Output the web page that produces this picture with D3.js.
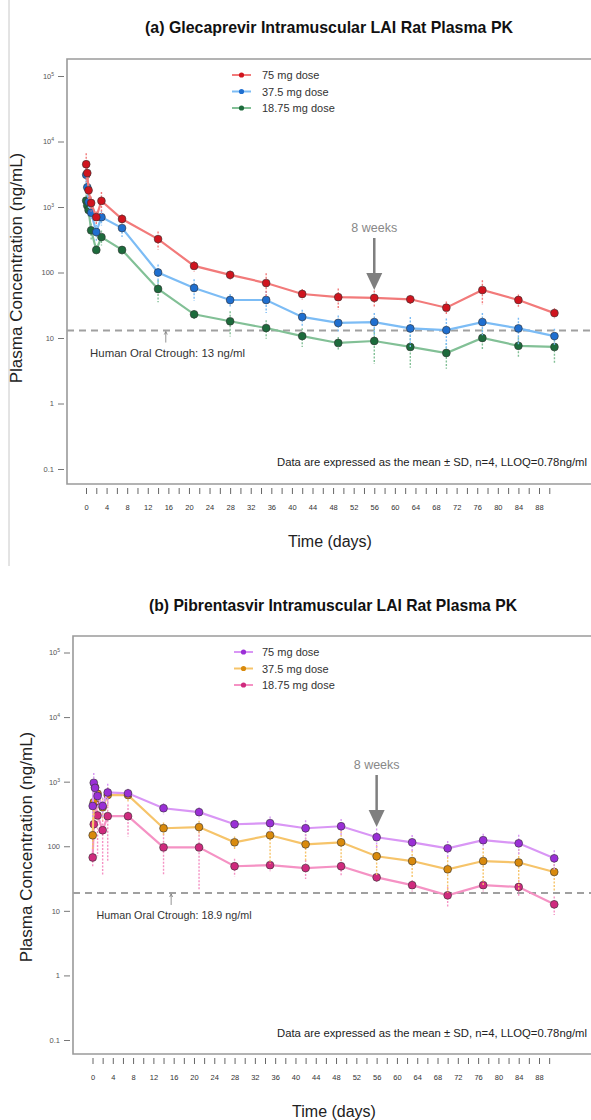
<!DOCTYPE html>
<html>
<head>
<meta charset="utf-8">
<script src="https://cdn.jsdelivr.net/npm/d3@7"></script>
<style>
  body { margin: 0; background: #fff; }
  svg { display: block; font-family: "Liberation Sans", Arial, sans-serif; }
</style>
</head>
<body>
<div id="vis"></div>
<script>
const width = 591;
const height = 1120;

// sampling times (days)
const days = [0.04, 0.25, 0.5, 1, 2, 3, 7, 14, 21, 28, 35, 42, 49, 56, 63, 70, 77, 84, 91];
const doseLabels = ['75 mg dose', '37.5 mg dose', '18.75 mg dose'];
const yTickValues = [0.1, 1, 10, 100, 1000, 10000, 100000];
const xMinorTicks = [0,2,4,6,8,10,12,14,16,18,20,22,24,26,28,30,32,34,36,38,40,42,44,46,48,50,52,54,56,58,60,62,64,66,68,70,72,74,76,78,80,82,84,86,88,90];
const xTickLabels = [0,4,8,12,16,20,24,28,32,36,40,44,48,52,56,60,64,68,72,76,80,84,88];

// (a) glecaprevir, mean and SD (ng/mL)
const gle75 = [4500, 3300, 1800, 1150, 700, 1240, 656, 324, 126, 92, 69, 47, 42, 41, 39, 29, 54, 38, 24];
const gle75sd = [2100, 900, 500, 300, 150, 460, 120, 100, 24, 14, 28, 9, 15, 12, 6, 7, 22, 8, 4.5];
const gle37 = [3100, 2000, 1200, 820, 415, 700, 477, 100, 58, 38, 38, 21, 17, 17.5, 14, 13.2, 17.5, 14, 10.7];
const gle37sd = [900, 500, 300, 200, 120, 180, 130, 32, 21, 9, 14, 6, 5, 6.5, 7, 6.6, 6.5, 6.3, 3.2];
const gle18 = [1250, 1050, 900, 440, 221, 348, 221, 56, 23, 18, 14.2, 10.7, 8.4, 9, 7.3, 5.9, 10, 7.6, 7.3];
const gle18sd = [300, 250, 200, 120, 40, 90, 33, 21, 3.5, 7.5, 4.5, 3.4, 2, 5, 3.8, 2.5, 3.5, 2.7, 3.3];

// (b) pibrentasvir, mean and SD (ng/mL)
const pib75 = [420, 960, 800, 600, 420, 680, 660, 388, 337, 219, 228, 190, 204, 138, 115, 93, 124, 111, 65];
const pib75sd = [150, 400, 250, 200, 150, 250, 120, 75, 65, 33, 60, 63, 60, 50, 35, 28, 32, 40, 22];
const pib37 = [148, 480, 820, 650, 400, 620, 620, 190, 198, 115, 148, 107, 115, 70, 59, 44, 59, 56, 40];
const pib37sd = [60, 200, 250, 200, 150, 200, 150, 44, 50, 26, 95, 48, 55, 35, 27, 25, 35, 35, 20];
const pib18 = [67, 219, 480, 300, 177, 292, 292, 96, 96, 49, 51, 46, 49, 33, 25, 17.4, 25, 23.4, 12.6];
const pib18sd = [20, 100, 200, 230, 150, 240, 150, 60, 75, 15, 10, 15, 14, 6, 5, 6, 5, 7, 4];

const svg = d3.select('#vis')
    .append('svg')
    .attr('width', width)
    .attr('height', height);

svg.append('rect').attr('width', width).attr('height', height).attr('fill', '#fff');

// thin frame line of the first image
svg.append('line')
    .attr('x1', 9).attr('x2', 9).attr('y1', 0).attr('y2', 566)
    .attr('stroke', '#c8c8c8').attr('stroke-width', 1);

function drawPanel(p) {
    const g = svg.append('g');
    const x = d3.scaleLinear().domain([0, 88]).range([p.x0, 539]);
    const y = d3.scaleLog().domain([0.1, 100000]).range([p.yBottom, p.yTop]);

    // title
    g.append('text')
        .attr('x', p.titleX).attr('y', p.titleY)
        .attr('text-anchor', 'middle')
        .attr('font-size', 16.5).attr('font-weight', 'bold')
        .attr('fill', '#111')
        .attr('textLength', 368).attr('lengthAdjust', 'spacingAndGlyphs')
        .text(p.title);

    // box (right side runs off the picture)
    g.append('path')
        .attr('d', `M600,${p.boxTop}H${p.boxLeft}V${p.boxBottom}H600`)
        .attr('fill', 'none').attr('stroke', '#9a9a9a').attr('stroke-width', 1.6);

    // y axis
    const yAxis = g.append('g')
        .attr('transform', `translate(${p.boxLeft - 3},0)`)
        .call(d3.axisLeft(y).tickValues(yTickValues).tickSize(6).tickPadding(4).tickFormat(''));
    yAxis.select('.domain').remove();
    yAxis.selectAll('.tick line').attr('stroke', '#777');
    yAxis.selectAll('.tick').each(function(d) {
        const t = d3.select(this).select('text')
            .attr('font-size', 7.5).attr('fill', '#555').attr('font-family', 'Liberation Sans, Arial, sans-serif');
        if (d >= 1000) {
            t.append('tspan').text('10');
            t.append('tspan').attr('font-size', 5).attr('dy', -3).text(Math.round(Math.log10(d)));
        } else {
            t.text(d3.format('~g')(d));
        }
    });

    // x axis: minor ticks every 2 days, labels every 4
    const xAxis = g.append('g')
        .attr('transform', `translate(0,${p.boxBottom + 4})`)
        .call(d3.axisBottom(x).tickValues(xMinorTicks).tickSize(6).tickFormat(''));
    xAxis.select('.domain').remove();
    xAxis.selectAll('.tick line').attr('stroke', '#666');
    const xLab = g.append('g')
        .attr('transform', `translate(0,${p.boxBottom + 4})`)
        .call(d3.axisBottom(x).tickValues(xTickLabels).tickSize(0).tickPadding(17));
    xLab.select('.domain').remove();
    xLab.selectAll('text').attr('font-size', 7.5).attr('fill', '#333');

    // axis titles
    g.append('text')
        .attr('transform', `translate(${p.yTitleX},${p.yTitleY}) rotate(-90)`)
        .attr('text-anchor', 'middle')
        .attr('font-size', 17).attr('fill', '#222')
        .text('Plasma Concentration (ng/mL)');
    g.append('text')
        .attr('x', p.titleX + 1).attr('y', p.boxBottom + 63)
        .attr('text-anchor', 'middle')
        .attr('font-size', 16).attr('fill', '#222')
        .text('Time (days)');

    // human oral Ctrough
    g.append('line')
        .attr('x1', p.boxLeft).attr('x2', 600)
        .attr('y1', y(p.ctrough)).attr('y2', y(p.ctrough))
        .attr('stroke', '#a0a0a0').attr('stroke-width', 2)
        .attr('stroke-dasharray', '7,5');
    const ax = x(15.5);
    g.append('line')
        .attr('x1', ax).attr('x2', ax)
        .attr('y1', y(p.ctrough) + 1).attr('y2', y(p.ctrough) + 12)
        .attr('stroke', '#777').attr('stroke-width', 0.8);
    g.append('path')
        .attr('d', `M${ax - 1.5},${y(p.ctrough) + 4}L${ax},${y(p.ctrough) + 1}L${ax + 1.5},${y(p.ctrough) + 4}`)
        .attr('fill', 'none').attr('stroke', '#777').attr('stroke-width', 0.8);
    g.append('text')
        .attr('x', x(0.8)).attr('y', y(p.ctrough) + 26)
        .attr('font-size', 11).attr('fill', '#333')
        .attr('textLength', 155).attr('lengthAdjust', 'spacingAndGlyphs')
        .text(p.ctroughLabel);

    // 8 weeks arrow
    const wx = x(56);
    g.append('text')
        .attr('x', wx).attr('y', p.weekY)
        .attr('text-anchor', 'middle')
        .attr('font-size', 12.5).attr('fill', '#888')
        .text('8 weeks');
    g.append('line')
        .attr('x1', wx).attr('x2', wx)
        .attr('y1', p.weekY + 6).attr('y2', p.weekY + 44)
        .attr('stroke', '#7f7f7f').attr('stroke-width', 2.5);
    g.append('path')
        .attr('d', `M${wx - 8},${p.weekY + 41}L${wx + 8},${p.weekY + 41}L${wx},${p.weekY + 58}Z`)
        .attr('fill', '#7f7f7f');

    // footnote
    g.append('text')
        .attr('x', 587).attr('y', y(0.1) - 3)
        .attr('text-anchor', 'end')
        .attr('font-size', 11).attr('fill', '#222')
        .attr('textLength', 310).attr('lengthAdjust', 'spacingAndGlyphs')
        .text('Data are expressed as the mean \u00b1 SD, n=4, LLOQ=0.78ng/ml');

    const line = d3.line().x(d => x(d.day)).y(d => y(d.v));

    // series, lowest dose drawn first
    p.series.slice().reverse().forEach(s => {
        const pts = days.map((day, i) => ({day, v: s.values[i], sd: s.sd[i]}));
        const sg = g.append('g');
        sg.selectAll('line.err')
            .data(pts)
            .join('line')
            .attr('class', 'err')
            .attr('x1', d => x(d.day)).attr('x2', d => x(d.day))
            .attr('y1', d => y(d.v + d.sd))
            .attr('y2', d => y(Math.max(d.v - d.sd, d.v * 0.2)))
            .attr('stroke', s.light).attr('stroke-width', 1.4)
            .attr('stroke-dasharray', '2,1.5');
        sg.append('path')
            .datum(pts)
            .attr('d', line)
            .attr('fill', 'none')
            .attr('stroke', s.light).attr('stroke-width', 2.2);
        sg.selectAll('circle')
            .data(pts)
            .join('circle')
            .attr('cx', d => x(d.day)).attr('cy', d => y(d.v))
            .attr('r', 3.9)
            .attr('fill', s.dark)
            .attr('stroke', '#333').attr('stroke-width', 0.6);
    });

    // legend
    const lg = g.append('g');
    p.series.forEach((s, i) => {
        const ly = p.legendY + i * 16.5;
        lg.append('line')
            .attr('x1', p.legendX).attr('x2', p.legendX + 19)
            .attr('y1', ly).attr('y2', ly)
            .attr('stroke', s.light).attr('stroke-width', 2);
        lg.append('circle')
            .attr('cx', p.legendX + 9.5).attr('cy', ly).attr('r', 2.6)
            .attr('fill', s.dark);
        lg.append('text')
            .attr('x', 262).attr('y', ly + 4)
            .attr('font-size', 11).attr('fill', '#333')
            .text(doseLabels[i]);
    });
}

drawPanel({
    title: '(a) Glecaprevir Intramuscular LAI Rat Plasma PK',
    titleX: 329, titleY: 33,
    boxTop: 59, boxLeft: 67, boxBottom: 484,
    yTop: 76, yBottom: 469,
    x0: 86,
    yTitleX: 22, yTitleY: 268,
    ctrough: 13, ctroughLabel: 'Human Oral Ctrough: 13 ng/ml',
    weekY: 232,
    legendX: 232, legendY: 75,
    series: [
        {values: gle75, sd: gle75sd, dark: '#d0141e', light: '#f27a7a'},
        {values: gle37, sd: gle37sd, dark: '#1f6fd0', light: '#7cbcf5'},
        {values: gle18, sd: gle18sd, dark: '#1d6b3c', light: '#82c096'}
    ]
});

drawPanel({
    title: '(b) Pibrentasvir Intramuscular LAI Rat Plasma PK',
    titleX: 333, titleY: 611,
    boxTop: 636, boxLeft: 73, boxBottom: 1054,
    yTop: 652.5, yBottom: 1040,
    x0: 92.5,
    yTitleX: 32, yTitleY: 847,
    ctrough: 18.9, ctroughLabel: 'Human Oral Ctrough: 18.9 ng/ml',
    weekY: 769,
    legendX: 234, legendY: 652,
    series: [
        {values: pib75, sd: pib75sd, dark: '#9a2fd6', light: '#d996f5'},
        {values: pib37, sd: pib37sd, dark: '#d98a0c', light: '#f6c46a'},
        {values: pib18, sd: pib18sd, dark: '#cf2a7e', light: '#f592c4'}
    ]
});
</script>
</body>
</html>
